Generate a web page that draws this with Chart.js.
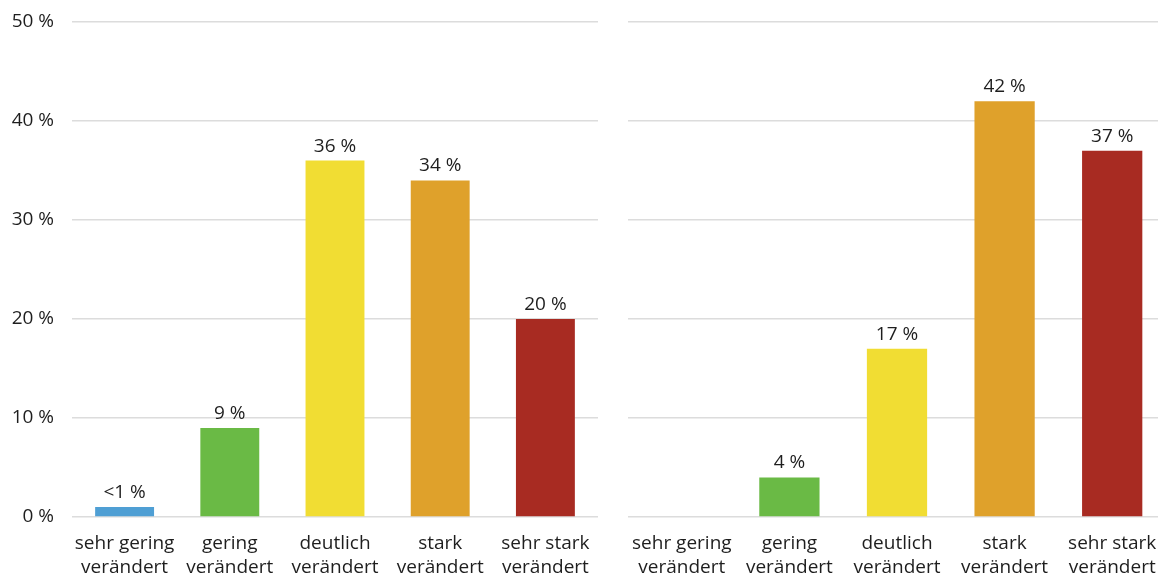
<!DOCTYPE html>
<html>
<head>
<meta charset="utf-8">
<script src="https://cdn.jsdelivr.net/npm/chart.js@4.4.1/dist/chart.umd.min.js"></script>
<style>
  html, body { margin: 0; padding: 0; background: #fff; overflow: hidden; }
  #wrap { position: relative; width: 1158px; height: 577px; overflow: hidden; }
  #leftBox { position: absolute; left: 0; top: 0; width: 600px; height: 577px; }
  #rightBox { position: absolute; left: 628px; top: 0; width: 538px; height: 577px; }
</style>
</head>
<body>
<div id="wrap">
  <div id="leftBox"><canvas id="leftChart"></canvas></div>
  <div id="rightBox"><canvas id="rightChart"></canvas></div>
</div>
<script>
// categories (two-line labels)
const categories = [
    ['sehr gering', 'verändert'],
    ['gering', 'verändert'],
    ['deutlich', 'verändert'],
    ['stark', 'verändert'],
    ['sehr stark', 'verändert']
];
const barColors = ['#4f9fd4', '#6aba45', '#f1dd33', '#dfa12b', '#a82b22'];

// left panel
const leftValues = [1, 9, 36, 34, 20];
const leftLabels = ['<1 %', '9 %', '36 %', '34 %', '20 %'];

// right panel
const rightValues = [0, 4, 17, 42, 37];
const rightLabels = ['', '4 %', '17 %', '42 %', '37 %'];

// y axis
const yTicks = [0, 10, 20, 30, 40, 50];

const fontFamily = '"Open Sans", sans-serif';
const textColor = '#1e1e1e';
const gridColor = '#dcdcdc';

// draws value labels above bars
const valueLabels = {
    id: 'valueLabels',
    afterDatasetsDraw(chart, args, opts) {
        const ctx = chart.ctx;
        const meta = chart.getDatasetMeta(0);
        ctx.save();
        ctx.font = '19px ' + fontFamily;
        ctx.fillStyle = textColor;
        ctx.textAlign = 'center';
        ctx.textBaseline = 'alphabetic';
        meta.data.forEach((bar, i) => {
            const txt = opts.labels[i];
            if (txt) ctx.fillText(txt, bar.x, bar.y - 9);
        });
        ctx.restore();
    }
};

function makeChart(canvasId, values, labels, showY) {
    const ctx = document.getElementById(canvasId).getContext('2d');
    return new Chart(ctx, {
        type: 'bar',
        data: {
            labels: categories,
            datasets: [{
                data: values,
                backgroundColor: barColors,
                borderWidth: 0,
                barPercentage: 0.56,
                categoryPercentage: 1
            }]
        },
        options: {
            responsive: true,
            maintainAspectRatio: false,
            animation: false,
            events: [],
            layout: { padding: { top: 22, right: showY ? 2 : 0, left: 0, bottom: 0 } },
            plugins: {
                legend: { display: false },
                tooltip: { enabled: false },
                valueLabels: { labels: labels }
            },
            scales: {
                x: {
                    grid: { display: false },
                    border: { display: false },
                    ticks: {
                        color: textColor,
                        font: { family: fontFamily, size: 19, lineHeight: 1.25 },
                        padding: 7,
                        maxRotation: 0,
                        autoSkip: false
                    },
                    afterFit(scale) {
                        scale.height = 60;
                        scale.paddingLeft = 0;
                        scale.paddingRight = 0;
                    }
                },
                y: {
                    min: yTicks[0],
                    max: yTicks[yTicks.length - 1],
                    afterBuildTicks(scale) {
                        scale.ticks = yTicks.map(v => ({ value: v }));
                    },
                    grid: { color: gridColor, lineWidth: 1.5, drawTicks: false },
                    border: { display: false },
                    ticks: {
                        display: showY,
                        color: textColor,
                        font: { family: fontFamily, size: 19 },
                        padding: 18,
                        callback: v => v + ' %'
                    },
                    afterFit(scale) {
                        scale.width = showY ? 72 : 0;
                        scale.paddingTop = 0;
                        scale.paddingBottom = 0;
                    }
                }
            }
        },
        plugins: [valueLabels]
    });
}

makeChart('leftChart', leftValues, leftLabels, true);
makeChart('rightChart', rightValues, rightLabels, false);
</script>
</body>
</html>
